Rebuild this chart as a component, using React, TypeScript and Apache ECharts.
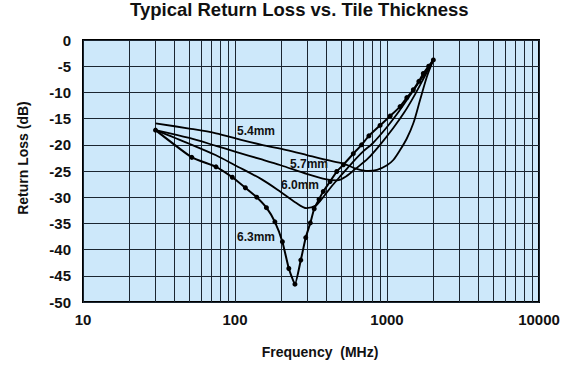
import React, { useEffect, useRef } from "react";
import * as echarts from "echarts";

// ---- Data ----
const freq54 = [30, 50, 75, 108, 150, 219, 300, 400, 516, 632, 750, 860, 1000, 1100, 1219, 1350, 1490, 1648, 1830, 2018];
const rl54 = [-15.9, -16.9, -17.8, -19.0, -20.0, -21.0, -22.0, -22.9, -23.6, -24.6, -25.0, -24.8, -23.9, -22.9, -21.0, -18.8, -15.9, -11.5, -7.0, -3.8];

const freq57 = [30, 50, 75, 100, 150, 200, 300, 400, 470, 540, 620, 750, 900, 1100, 1300, 1500, 1750, 2018];
const rl57 = [-17.2, -18.7, -20.2, -21.3, -22.8, -23.9, -25.6, -26.6, -26.8, -26.0, -24.6, -22.6, -20.0, -16.8, -13.8, -10.8, -7.2, -3.8];

const freq60 = [30, 50, 75, 100, 150, 200, 250, 296, 340, 380, 430, 500, 600, 700, 800, 1000, 1200, 1400, 1600, 1800, 2018];
const rl60 = [-17.2, -19.8, -22.0, -23.9, -26.6, -29.0, -31.0, -32.1, -31.6, -30.0, -28.0, -25.8, -23.2, -21.2, -19.8, -16.6, -13.6, -10.8, -8.3, -6.2, -3.8];

const freq63 = [30, 52, 75, 96, 117, 139, 161, 183, 205, 226, 248, 271, 292, 313, 332, 357, 381, 422, 467, 516, 600, 680, 760, 900, 1050, 1219, 1350, 1490, 1620, 1733, 1880, 2018];
const rl63 = [-17.2, -22.4, -24.2, -26.2, -28.2, -30.0, -32.0, -34.7, -38.5, -43.6, -46.6, -42.0, -37.7, -34.9, -32.2, -30.4, -28.9, -27.0, -25.1, -23.8, -21.7, -20.0, -18.3, -16.3, -14.5, -12.7, -11.0, -9.5, -7.9, -6.4, -5.0, -3.8];

const seriesNames = ["5.4mm", "5.7mm", "6.0mm", "6.3mm"];
const xTickValues = [10, 100, 1000, 10000];
const minorGridValues = [
  20, 30, 40, 50, 60, 70, 80, 90,
  200, 300, 400, 500, 600, 700, 800, 900,
  2000, 3000, 4000, 5000, 6000, 7000, 8000, 9000,
];
const titleText = "Typical Return Loss vs. Tile Thickness";
const xName = "Frequency  (MHz)";
const yName = "Return Loss (dB)";

const zip = (xs: number[], ys: number[]) => xs.map((x, i) => [x, ys[i]]);

const FONT = "'Liberation Sans', Arial, Helvetica, sans-serif";
const INK = "#111111";
const GRID = "#1a2530";

export default function App() {
  const ref = useRef<HTMLDivElement>(null);

  useEffect(() => {
    if (!ref.current) return;
    const chart = echarts.init(ref.current, null, { renderer: "svg" });
    const lineBase = {
      type: "line" as const,
      showSymbol: false,
      symbol: "none",
      smooth: 0.3,
      lineStyle: { color: "#000", width: 1.8 },
      silent: true,
      z: 3,
    };
    chart.setOption({
      animation: false,
      backgroundColor: "#ffffff",
      title: {
        text: titleText,
        left: 130,
        top: 0,
        padding: 0,
        textStyle: { fontFamily: FONT, fontWeight: "bold", fontSize: 18.5, color: INK },
      },
      grid: {
        left: 83,
        right: 40,
        top: 40,
        bottom: 69,
        show: true,
        backgroundColor: "#cde8fa",
        borderColor: "#000",
        borderWidth: 2,
        z: 0,
      },
      xAxis: {
        type: "log",
        logBase: 10,
        min: 10,
        max: 10000,
        splitNumber: 3,
        axisLine: { show: false },
        axisTick: { show: false },
        axisLabel: {
          fontFamily: FONT,
          fontWeight: "bold",
          fontSize: 15,
          color: INK,
          margin: 10,
          formatter: (v: number) => (xTickValues.includes(Math.round(v)) ? String(Math.round(v)) : ""),
        },
        splitLine: { show: true, lineStyle: { color: GRID, width: 1 } },
      },
      yAxis: {
        type: "value",
        min: -50,
        max: 0,
        interval: 5,
        axisLine: { show: false },
        axisTick: { show: false },
        axisLabel: {
          fontFamily: FONT,
          fontWeight: "bold",
          fontSize: 15,
          color: INK,
          margin: 12,
        },
        splitLine: { show: true, lineStyle: { color: GRID, width: 1 } },
      },
      graphic: [
        {
          type: "text",
          x: 23,
          y: 158,
          rotation: Math.PI / 2,
          style: {
            text: yName,
            fontFamily: FONT,
            fontWeight: "bold",
            fontSize: 14,
            fill: INK,
            align: "center",
            verticalAlign: "middle",
          },
        },
        {
          type: "text",
          x: 320,
          y: 352,
          style: {
            text: xName,
            fontFamily: FONT,
            fontWeight: "bold",
            fontSize: 14,
            fill: INK,
            align: "center",
            verticalAlign: "middle",
          },
        },
        {
          type: "text",
          left: 237,
          top: 125,
          style: { text: seriesNames[0], fontFamily: FONT, fontWeight: "bold", fontSize: 12, fill: INK },
        },
        {
          type: "text",
          left: 290,
          top: 158,
          style: { text: seriesNames[1], fontFamily: FONT, fontWeight: "bold", fontSize: 12, fill: INK },
        },
        {
          type: "text",
          left: 281,
          top: 179,
          style: { text: seriesNames[2], fontFamily: FONT, fontWeight: "bold", fontSize: 12, fill: INK },
        },
        {
          type: "text",
          left: 237,
          top: 231,
          style: { text: seriesNames[3], fontFamily: FONT, fontWeight: "bold", fontSize: 12, fill: INK },
        },
      ],
      series: [
        {
          ...lineBase,
          name: seriesNames[0],
          data: zip(freq54, rl54),
          markLine: {
            silent: true,
            symbol: "none",
            label: { show: false },
            lineStyle: { type: "solid", color: GRID, width: 1 },
            emphasis: { disabled: true },
            data: minorGridValues.map((v) => ({ xAxis: v })),
            z: 1,
          },
        },
        { ...lineBase, name: seriesNames[1], data: zip(freq57, rl57) },
        { ...lineBase, name: seriesNames[2], data: zip(freq60, rl60) },
        {
          type: "line",
          name: seriesNames[3],
          data: zip(freq63, rl63),
          smooth: 0.15,
          symbol: "circle",
          symbolSize: 5,
          showSymbol: true,
          itemStyle: { color: "#000" },
          lineStyle: { color: "#000", width: 2 },
          silent: true,
          z: 4,
        },
      ],
    });
    return () => chart.dispose();
  }, []);

  return (
    <div
      ref={ref}
      style={{ position: "fixed", left: 0, top: 0, width: 579, height: 371 }}
    />
  );
}
